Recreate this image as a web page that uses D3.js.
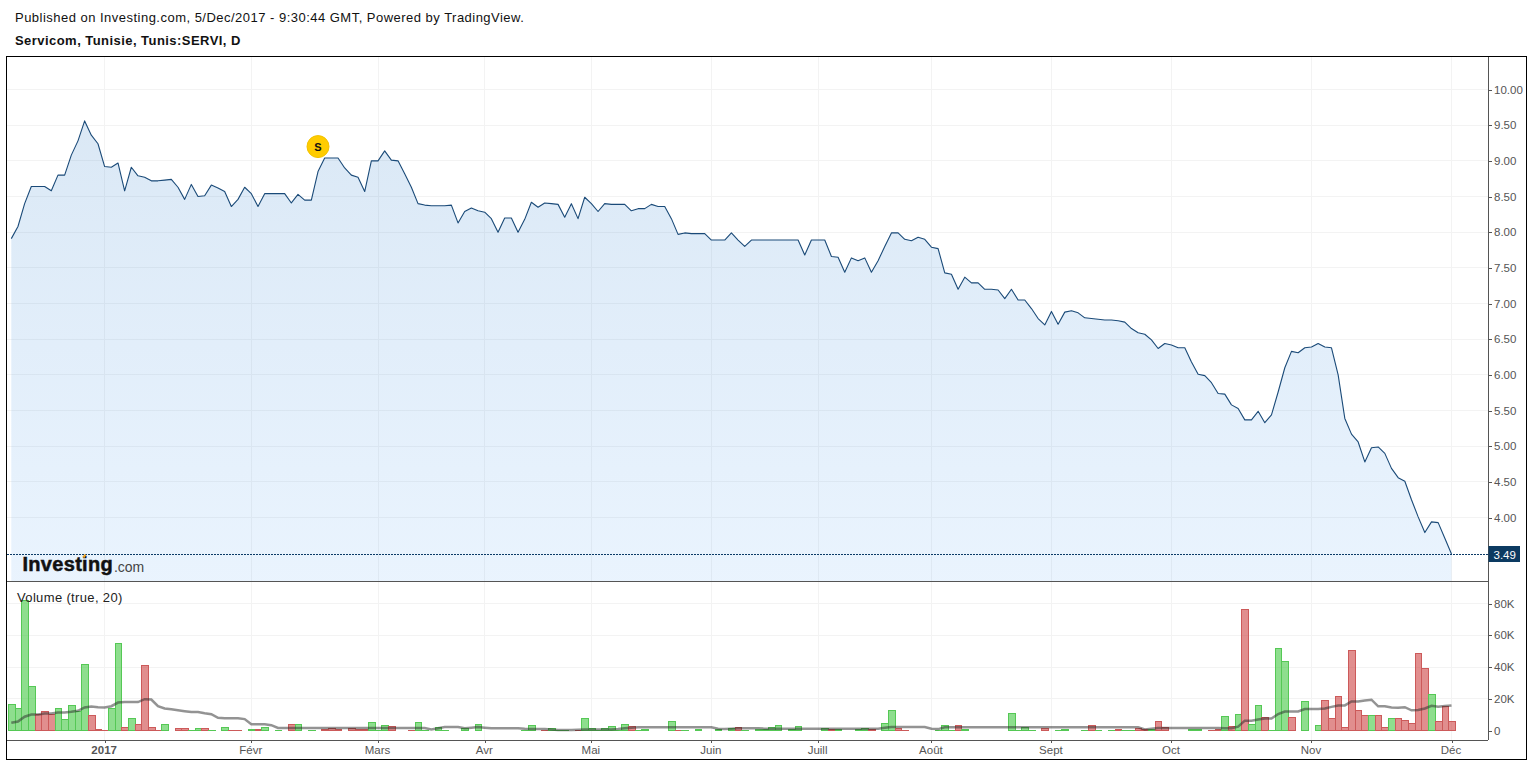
<!DOCTYPE html>
<html>
<head>
<meta charset="utf-8">
<script src="https://cdn.jsdelivr.net/npm/d3@7/dist/d3.min.js"></script>
<style>
html,body{margin:0;padding:0;background:#fff;overflow:hidden}
svg{display:block}
text{font-family:"Liberation Sans",Arial,sans-serif}
</style>
</head>
<body>
<svg id="c" width="1533" height="764"></svg>
<script>
const titleLine = "Published on Investing.com, 5/Dec/2017 - 9:30:44 GMT, Powered by TradingView.";
const symbolLine = "Servicom, Tunisie, Tunis:SERVI, D";
const volumeLabel = "Volume (true, 20)";

const prices = [
7.91,8.08,8.40,8.64,8.64,8.64,8.58,8.80,8.80,9.08,
9.28,9.56,9.36,9.24,8.92,8.91,8.97,8.58,8.91,8.79,
8.77,8.72,8.72,8.73,8.74,8.63,8.46,8.67,8.50,8.51,
8.66,8.62,8.57,8.36,8.46,8.63,8.54,8.36,8.54,8.54,
8.54,8.54,8.41,8.53,8.45,8.45,8.85,9.04,9.04,9.04,
8.90,8.80,8.77,8.57,9.00,9.00,9.14,9.01,9.00,8.82,
8.63,8.40,8.38,8.37,8.37,8.37,8.38,8.13,8.29,8.34,
8.30,8.28,8.19,8.00,8.20,8.20,8.00,8.18,8.42,8.35,
8.41,8.40,8.39,8.21,8.40,8.19,8.49,8.40,8.29,8.40,
8.39,8.39,8.39,8.30,8.33,8.33,8.39,8.36,8.36,8.19,
7.97,7.99,7.98,7.98,7.98,7.89,7.89,7.89,7.99,7.89,
7.80,7.89,7.89,7.89,7.89,7.89,7.89,7.89,7.89,7.68,
7.89,7.89,7.89,7.66,7.65,7.44,7.64,7.60,7.64,7.44,
7.60,7.80,7.99,7.99,7.90,7.88,7.93,7.90,7.79,7.77,
7.43,7.41,7.20,7.37,7.29,7.29,7.20,7.20,7.19,7.07,
7.20,7.05,7.05,6.93,6.79,6.70,6.89,6.71,6.88,6.90,
6.87,6.80,6.79,6.78,6.77,6.77,6.76,6.74,6.65,6.59,
6.57,6.49,6.37,6.44,6.42,6.38,6.38,6.18,6.01,5.99,
5.89,5.74,5.73,5.58,5.53,5.37,5.37,5.49,5.33,5.44,
5.76,6.10,6.33,6.31,6.38,6.39,6.44,6.39,6.38,6.00,
5.39,5.17,5.06,4.78,4.98,4.99,4.90,4.69,4.56,4.51,
4.25,4.01,3.79,3.94,3.93,3.71,3.49];

const volumesK = [
16.5,14,82,27.5,10,12,10.2,14,7,16,
12.3,41.5,9.6,.8,.3,14,55,2,7.7,4,
41,2,.4,4,0,1.5,1.5,.3,1.5,1.5,
.3,0,2,.3,.3,0,.8,.8,2,0,
.4,0,4,4,0,.3,0,.8,1.5,.8,
0,1.5,.8,.8,5.2,.4,3.3,2.7,0,0,
.3,5.2,.4,0,2,.3,0,0,1.5,0,
4,0,0,0,0,0,0,.4,3.3,0,
.4,1.5,.4,.4,0,.4,7.7,1.5,.4,1.5,
2.7,.4,4,2.7,.4,.8,0,0,0,5.8,
.3,.4,0,.8,0,0,.8,0,1.5,2,
.4,0,.8,.8,2,3.3,0,.8,2.7,0,
0,0,1.5,.8,.8,0,0,.8,1.5,.8,
0,4.6,12.7,1.5,.4,0,0,0,0,.3,
3.3,.4,3.3,.8,0,0,0,0,0,0,
10.8,.3,2,.4,0,1.5,0,.4,.8,0,
0,.4,3.3,.4,0,.4,.8,.4,.4,1.5,
.8,.8,5.8,2,0,0,0,.8,.8,0,
.4,.8,9,2.7,10.2,76,4,15.9,8.4,.2,
51.7,43.5,8.4,0,18.4,0,3.3,19,7.7,21.3,
2.3,50.4,12.8,9.6,9.6,9.6,2,7.7,7.7,6.5,
4.6,48.5,39,22.8,5.9,15.5,5.9];

const volumeUp = [
1,1,1,1,0,0,0,1,1,1,
1,1,0,0,0,1,1,0,1,0,
0,0,0,1,0,0,0,1,1,0,
1,1,1,0,0,1,1,0,1,1,
1,1,0,1,0,1,1,0,0,0,
1,0,0,0,1,1,1,0,1,1,
0,1,1,1,1,1,1,0,1,1,
1,0,1,1,1,0,0,1,1,1,
0,1,1,1,1,0,1,1,1,1,
1,1,1,0,1,1,1,1,1,1,
0,1,1,1,1,1,1,1,1,0,
1,1,1,1,1,1,1,1,1,0,
1,1,1,0,1,0,1,1,1,0,
1,1,1,0,0,1,1,1,1,1,
1,1,0,1,1,1,1,1,1,1,
1,1,1,1,0,0,1,1,1,1,
1,1,0,1,0,1,0,1,1,0,
0,1,0,0,1,1,1,1,1,1,
0,0,1,0,1,0,1,1,0,1,
1,1,0,1,1,0,1,0,0,0,
0,0,0,0,1,0,0,1,0,0,
0,0,0,1,0,0,0];

const volumeMA = [
5,5.8,8.8,10.2,10.2,10.8,10.8,11.5,11.5,11.9,
12.5,14.6,15.2,14.8,14.6,15.4,17.7,18,18,18,
19.8,19.6,15.4,14,13.5,12.9,12.3,11.7,11.7,11,
10.4,8.1,7.9,7.9,7.9,7.3,4,4,4,3.5,
1.7,1.7,1.7,1.7,1.7,1.7,1.7,1.7,1.7,1.7,
1.7,1.7,1.7,1.7,1.7,1.7,1.7,1.7,1.7,1.7,
1.7,1.7,1.7,.8,1.5,2.3,2.3,2.3,1.5,1.9,
2.3,1.9,1.5,1.5,1.5,1.5,1.5,1.2,1,1,
1,.8,.4,.4,.4,.6,.8,.8,.8,.8,
.8,1,1.5,1.9,2.1,2.1,2.1,2.1,2.1,2.1,
2.1,2.1,2.1,2.1,2.1,2.1,1.2,1,1.3,1.5,
1.5,1.5,1.5,1.3,1.3,1.3,1.3,1.3,1.3,1.3,
1.3,1.3,1.3,1.3,1.3,1.3,1.3,1.3,1.3,1.3,
1.3,1.8,2.3,2.3,2.3,2.3,2.3,2.3,1.2,1,
2.1,2.1,2.1,2.1,2.1,2.1,2.1,2.1,2.1,2.1,
2.1,2.1,2.1,2.1,2.1,2.1,2.1,2.1,2.1,2.1,
2.1,2.1,2.1,2.1,2.1,2.1,2.1,2.1,2.1,2.1,
.8,1.3,1.7,1.7,1.7,1.7,1.7,1.7,1.7,1.7,
1.7,1.7,1.5,1.5,2.5,6.3,6.3,7,7.7,7.7,
10.5,12.1,12.1,12.1,13.6,13.6,13.6,14,15,15.9,
15.9,18.4,18.4,19,19.5,15.3,15.3,14.6,14.4,14.8,
12.8,13,14,15.7,15,15.5,15.9];

const monthIndex  = [14,36,55,71,87,105,121,138,156,174,195,216];
const monthLabels = ["2017","Févr","Mars","Avr","Mai","Juin","Juill","Août","Sept","Oct","Nov","Déc"];
const priceTicks  = [4,4.5,5,5.5,6,6.5,7,7.5,8,8.5,9,9.5,10];
const volumeTicks = [0,20,40,60,80];
const lastPrice = 3.49;
const signalIndex = 46, signalPrice = 9.2, signalLabel = "S";

const svg = d3.select("#c");
const L = 7, R = 1488, T = 57, PB = 581, VB = 740;

const x  = d3.scaleLinear().domain([0,216]).range([11.3,1451.5]);
const y  = d3.scaleLinear().domain([4,10]).range([517.6,89.5]);
const vy = d3.scaleLinear().domain([0,80]).range([730.7,603.5]);

const defs = svg.append("defs");
const g = defs.append("linearGradient").attr("id","af").attr("gradientUnits","userSpaceOnUse")
  .attr("x1",0).attr("x2",0).attr("y1",120).attr("y2",PB);
g.append("stop").attr("offset",0).attr("stop-color","rgb(41,121,198)").attr("stop-opacity",.17);
g.append("stop").attr("offset",1).attr("stop-color","rgb(41,140,240)").attr("stop-opacity",.1);

// grid
const grid = svg.append("g").attr("stroke","#f3f3f3").attr("shape-rendering","crispEdges");
priceTicks.forEach(v=>grid.append("line").attr("x1",L).attr("x2",R).attr("y1",y(v)).attr("y2",y(v)));
volumeTicks.filter(v=>v>0).forEach(v=>grid.append("line").attr("x1",L).attr("x2",R).attr("y1",vy(v)).attr("y2",vy(v)));
monthIndex.forEach(i=>{
  grid.append("line").attr("x1",x(i)).attr("x2",x(i)).attr("y1",T).attr("y2",PB);
  grid.append("line").attr("x1",x(i)).attr("x2",x(i)).attr("y1",PB).attr("y2",VB);
});

// price area and line
svg.append("path").attr("fill","url(#af)")
  .attr("d",d3.area().x((d,i)=>x(i)).y0(PB).y1(d=>y(d))(prices));
svg.append("path").attr("fill","none").attr("stroke","#1a4a78").attr("stroke-width",1.1)
  .attr("stroke-linejoin","round")
  .attr("d",d3.line().x((d,i)=>x(i)).y(d=>y(d))(prices));

// last price line
svg.append("line").attr("x1",L).attr("x2",R).attr("y1",Math.round(y(lastPrice))+.5).attr("y2",Math.round(y(lastPrice))+.5)
  .attr("stroke","#0b3a66").attr("stroke-dasharray","2,1");

// logo
svg.append("text").attr("x",22.5).attr("y",571).attr("font-size",20).attr("font-weight",700)
  .attr("letter-spacing",.3).attr("fill","#111").attr("stroke","#111").attr("stroke-width",.5).text("Investing");
svg.append("text").attr("x",114).attr("y",571.5).attr("font-size",14).attr("letter-spacing",-.1)
  .attr("fill","#444").text(".com");
svg.append("line").attr("x1",83.5).attr("y1",557.5).attr("x2",85.5).attr("y2",554.5)
  .attr("stroke","#f5a623").attr("stroke-width",2);

// signal marker
svg.append("circle").attr("cx",x(signalIndex)).attr("cy",y(signalPrice)).attr("r",11)
  .attr("fill","#ffcc00").attr("stroke","#f2c200");
svg.append("text").attr("x",x(signalIndex)).attr("y",y(signalPrice)+4).attr("text-anchor","middle")
  .attr("font-size",11).attr("font-weight",700).attr("fill","#111").text(signalLabel);

// volume bars
const barLeft = i => Math.round(x(i)-3.33)+.5;
svg.append("g").attr("shape-rendering","crispEdges").selectAll("rect").data(volumesK).join("rect")
  .attr("x",(d,i)=>barLeft(i)).attr("width",(d,i)=>barLeft(i+1)-barLeft(i))
  .attr("y",d=>vy(d)).attr("height",d=>vy(0)-vy(d))
  .attr("fill",(d,i)=>volumeUp[i]?"rgba(50,195,50,.55)":"rgba(200,50,50,.55)")
  .attr("stroke",(d,i)=>volumeUp[i]?"#55c855":"#cc5a5a")
  .attr("stroke-opacity",d=>d===0?.4:1);

// volume MA
svg.append("path").attr("fill","none").attr("stroke","rgba(40,40,40,.5)").attr("stroke-width",2.5)
  .attr("d",d3.line().x((d,i)=>x(i)).y(d=>vy(d))(volumeMA));

svg.append("text").attr("x",17).attr("y",602).attr("font-size",13).attr("letter-spacing",.35).attr("fill","#222").text(volumeLabel);

// axes
const axisColor = "#555";
function styleAxis(sel){
  sel.selectAll(".domain").remove();
  sel.selectAll("line").attr("stroke",axisColor).attr("shape-rendering","crispEdges");
  sel.selectAll("text").attr("fill",axisColor).attr("font-size",11.5)
    .style("font-family",'"Liberation Sans",Arial,sans-serif');
}
const pa = svg.append("g").attr("transform",`translate(${R},0)`)
  .call(d3.axisRight(y).tickValues(priceTicks).tickFormat(d3.format(".2f")).tickSize(4).tickPadding(2));
styleAxis(pa);
const va = svg.append("g").attr("transform",`translate(${R},0)`)
  .call(d3.axisRight(vy).tickValues(volumeTicks).tickFormat(d=>d===0?"0":d+"K").tickSize(4).tickPadding(2));
styleAxis(va);
const xa = svg.append("g").attr("transform",`translate(0,${VB})`)
  .call(d3.axisBottom(x).tickValues(monthIndex).tickFormat((d,i)=>monthLabels[i]).tickSize(3).tickPadding(3));
styleAxis(xa);
xa.selectAll("text").attr("x",-1);
xa.selectAll("text").filter((d,i)=>i===0).attr("font-weight",700);

// axis lines, pane separator, frame
const frame = svg.append("g").attr("shape-rendering","crispEdges");
frame.append("line").attr("x1",R+.5).attr("x2",R+.5).attr("y1",T).attr("y2",VB).attr("stroke",axisColor);
frame.append("line").attr("x1",L).attr("x2",R).attr("y1",PB+.5).attr("y2",PB+.5).attr("stroke",axisColor);
frame.append("line").attr("x1",L).attr("x2",R).attr("y1",VB+.5).attr("y2",VB+.5).attr("stroke",axisColor);
frame.append("rect").attr("x",6.5).attr("y",56.5).attr("width",1520).attr("height",703)
  .attr("fill","none").attr("stroke","#000");

// last price label
const ly = Math.round(y(lastPrice));
svg.append("rect").attr("x",R+.5).attr("y",ly-8).attr("width",31.5).attr("height",16).attr("fill","#0c3a61");
svg.append("text").attr("x",R+5.5).attr("y",ly+4.5).attr("font-size",11.5).attr("fill","#fff").text(lastPrice.toFixed(2));

// header
svg.append("text").attr("x",15).attr("y",22).attr("font-size",13).attr("letter-spacing",.48).attr("fill","#111").text(titleLine);
svg.append("text").attr("x",15).attr("y",45).attr("font-size",13).attr("font-weight",700).attr("letter-spacing",.45).attr("fill","#111").text(symbolLine);
</script>
</body>
</html>
